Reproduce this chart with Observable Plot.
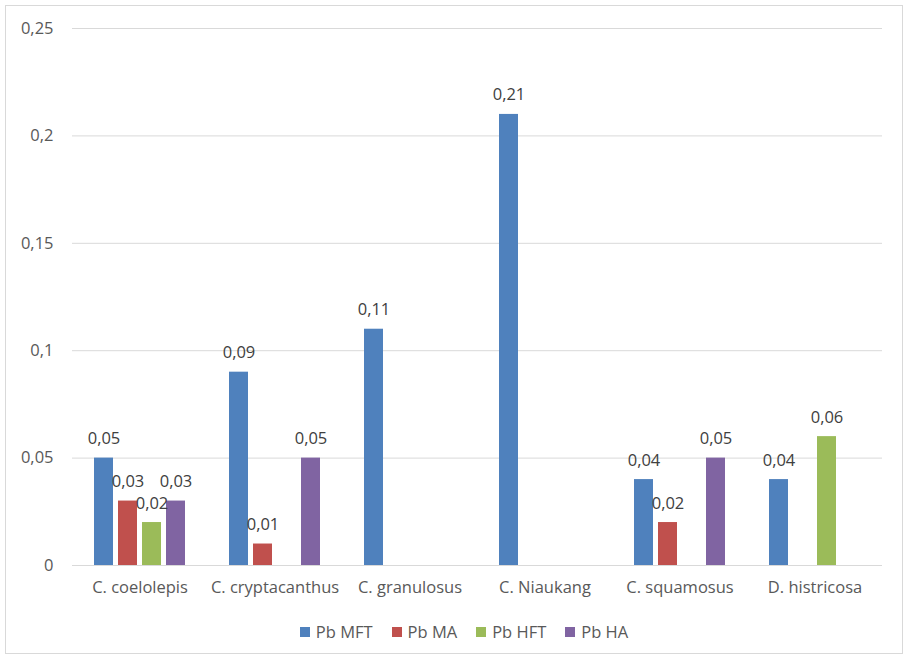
<!DOCTYPE html>
<html>
<head>
<meta charset="utf-8">
<script src="https://cdn.jsdelivr.net/npm/d3@7"></script>
<script src="https://cdn.jsdelivr.net/npm/@observablehq/plot@0.6"></script>
<style>
  html, body { margin: 0; padding: 0; background: #fff; }
  #frame { position: absolute; left: 5px; top: 5px; width: 896px; height: 647px; border: 1px solid #d9d9d9; }
  #chart { position: absolute; left: 0; top: 0; }
  #legend { position: absolute; left: 10px; top: 620px; width: 908px; display: flex; justify-content: center; gap: 19px;
            font-family: "Open Sans", sans-serif; font-size: 16.5px; color: #595959; }
  #legend .item { display: flex; align-items: center; gap: 6px; }
  #legend .sw { width: 10px; height: 10px; display: inline-block; }
</style>
</head>
<body>
<div id="frame"></div>
<div id="chart"></div>
<div id="legend"></div>
<script>
const categories = ["C. coelolepis", "C. cryptacanthus", "C. granulosus", "C. Niaukang", "C. squamosus", "D. histricosa"];
const series = ["Pb MFT", "Pb MA", "Pb HFT", "Pb HA"];
const colors = ["#4F81BD", "#C0504D", "#9BBB59", "#8064A2"];
const pbMFT = [0.05, 0.09, 0.11, 0.21, 0.04, 0.04];
const pbMA  = [0.03, 0.01, null, null, 0.02, null];
const pbHFT = [0.02, null, null, null, null, 0.06];
const pbHA  = [0.03, 0.05, null, null, 0.05, null];
const yTicks = [0, 0.05, 0.1, 0.15, 0.2, 0.25];

const fmt = d => String(d).replace(".", ",");
const valuesBySeries = [pbMFT, pbMA, pbHFT, pbHA];
const data = [];
categories.forEach((cat, i) => {
  series.forEach((s, j) => {
    const v = valuesBySeries[j][i];
    if (v != null) data.push({cat, series: s, value: v});
  });
});

const chart = Plot.plot({
  width: 908,
  height: 610,
  marginLeft: 72,
  marginRight: 26,
  marginTop: 28,
  marginBottom: 45,
  style: {fontFamily: "Open Sans, sans-serif", fontSize: "16.5px", color: "#595959", background: "transparent"},
  facet: {data, x: "cat"},
  fx: {domain: categories, padding: 0, label: null, tickSize: 0, tickPadding: 16, axis: "bottom"},
  x: {domain: series, axis: null, paddingInner: 0.224, paddingOuter: 0.867},
  y: {domain: [0, 0.25], ticks: yTicks, tickFormat: fmt, label: null, tickSize: 0, tickPadding: 19},
  color: {domain: series, range: colors},
  marks: [
    Plot.ruleY(yTicks, {stroke: "#d9d9d9", strokeWidth: 1}),
    Plot.barY(data, {x: "series", y: "value", fill: "series"}),
    Plot.text(data, {x: "series", y: "value", text: d => fmt(d.value), lineAnchor: "bottom", dy: -14, fill: "#404040", fontSize: 16.5})
  ]
});
document.getElementById("chart").appendChild(chart);

const legend = document.getElementById("legend");
series.forEach((s, i) => {
  const item = document.createElement("div");
  item.className = "item";
  const sw = document.createElement("span");
  sw.className = "sw";
  sw.style.background = colors[i];
  const t = document.createElement("span");
  t.textContent = s;
  item.appendChild(sw);
  item.appendChild(t);
  legend.appendChild(item);
});
</script>
</body>
</html>
